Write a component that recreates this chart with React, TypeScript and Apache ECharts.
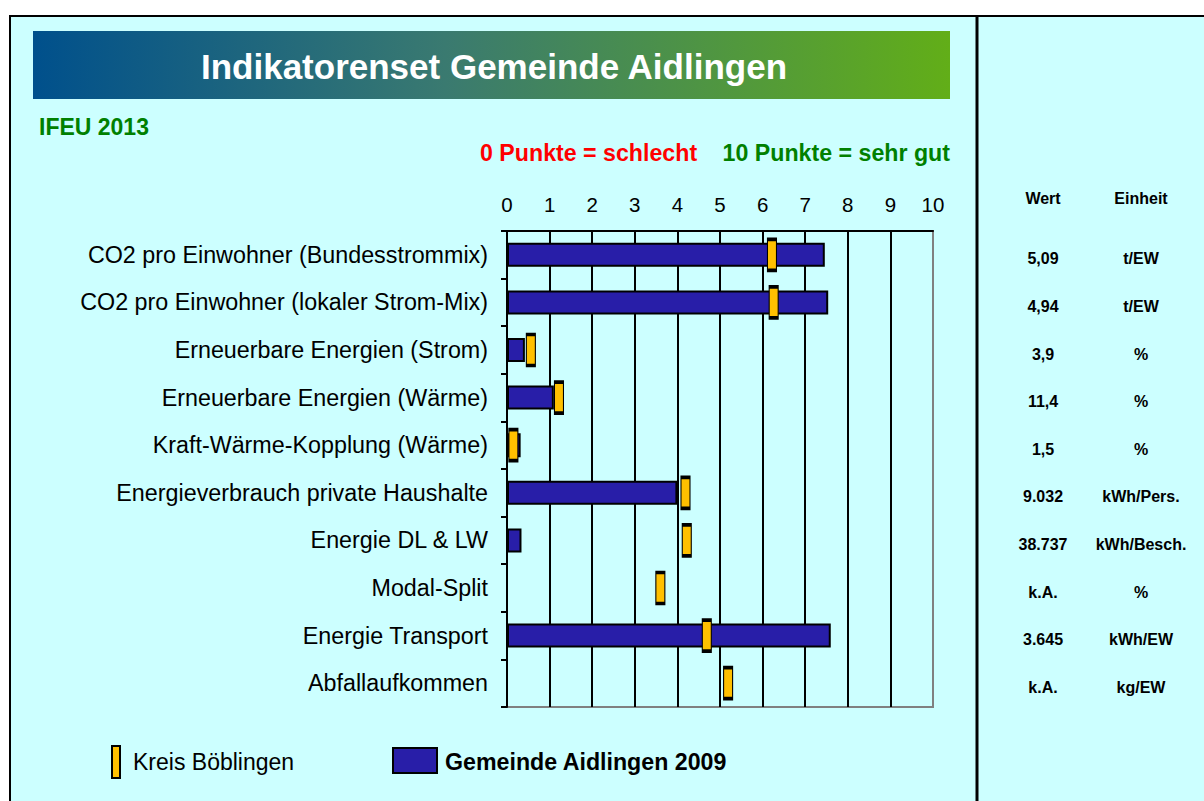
import React, { useEffect, useRef } from "react";
import * as echarts from "echarts";

const categories = [
  "CO2 pro Einwohner (Bundesstrommix)",
  "CO2 pro Einwohner (lokaler Strom-Mix)",
  "Erneuerbare Energien (Strom)",
  "Erneuerbare Energien (Wärme)",
  "Kraft-Wärme-Kopplung (Wärme)",
  "Energieverbrauch private Haushalte",
  "Energie DL & LW",
  "Modal-Split",
  "Energie Transport",
  "Abfallaufkommen",
];
const gemeindeValues: (number | null)[] = [7.46, 7.54, 0.42, 1.1, 0.32, 4.0, 0.34, null, 7.6, null];
const kreisValues: number[] = [6.22, 6.26, 0.56, 1.22, 0.15, 4.19, 4.22, 3.6, 4.69, 5.19];
const wertLabels = ["5,09", "4,94", "3,9", "11,4", "1,5", "9.032", "38.737", "k.A.", "3.645", "k.A."];
const einheitLabels = ["t/EW", "t/EW", "%", "%", "%", "kWh/Pers.", "kWh/Besch.", "%", "kWh/EW", "kg/EW"];

const TITLE = "Indikatorenset Gemeinde Aidlingen";
const SOURCE = "IFEU 2013";
const BAD = "0 Punkte = schlecht";
const GOOD = "10 Punkte = sehr gut";
const SERIES_KREIS = "Kreis Böblingen";
const SERIES_GEMEINDE = "Gemeinde Aidlingen 2009";

const FONT = "'Liberation Sans', Arial, sans-serif";
const GRID = { left: 507, top: 231, width: 426, height: 476 };

export default function App() {
  const ref = useRef<HTMLDivElement>(null);
  useEffect(() => {
    if (!ref.current) return;
    const chart = echarts.init(ref.current, null, { renderer: "svg" });
    const band = GRID.height / categories.length;
    const rowY = (i: number) => GRID.top + (i + 0.5) * band;

    const tableTexts: any[] = [];
    wertLabels.forEach((w, i) => {
      tableTexts.push({
        type: "text",
        x: 1043,
        y: rowY(i) + 4,
        style: { text: w, font: `bold 16px ${FONT}`, fill: "#000", align: "center", verticalAlign: "middle" },
      });
      tableTexts.push({
        type: "text",
        x: 1141,
        y: rowY(i) + 4,
        style: { text: einheitLabels[i], font: `bold 16px ${FONT}`, fill: "#000", align: "center", verticalAlign: "middle" },
      });
    });

    const option: any = {
      animation: false,
      backgroundColor: "#ffffff",
      textStyle: { fontFamily: FONT },
      grid: {
        left: GRID.left,
        top: GRID.top,
        width: GRID.width,
        height: GRID.height,
        show: true,
        borderColor: "#808080",
        borderWidth: 2,
        backgroundColor: "transparent",
        containLabel: false,
      },
      xAxis: {
        type: "value",
        position: "top",
        min: 0,
        max: 10,
        interval: 1,
        axisLine: { show: true, lineStyle: { color: "#000", width: 2 } },
        axisTick: { show: false },
        axisLabel: { fontSize: 20.5, color: "#000", margin: 16, fontFamily: FONT },
        splitLine: { show: true, showMaxLine: false, lineStyle: { color: "#000", width: 2 } },
      },
      yAxis: {
        type: "category",
        inverse: true,
        data: categories,
        axisLine: { show: true, lineStyle: { color: "#000", width: 2 } },
        axisTick: { show: true, length: 6, lineStyle: { color: "#000", width: 2 } },
        axisLabel: { fontSize: 23.3, color: "#000", margin: 19, fontFamily: FONT },
        splitLine: { show: false },
      },
      series: [
        {
          name: SERIES_GEMEINDE,
          type: "bar",
          data: gemeindeValues,
          barWidth: 24,
          itemStyle: { color: "#281EA8", borderColor: "#000", borderWidth: 2 },
          z: 2,
        },
        {
          name: SERIES_KREIS,
          type: "scatter",
          data: kreisValues.map((v, i) => [v, categories[i]]),
          symbol: "rect",
          symbolSize: [9, 31],
          itemStyle: { color: "#FFC000", borderColor: "#000", borderWidth: 2, opacity: 1 },
          z: 5,
        },
      ],
      graphic: [
        {
          type: "rect",
          z: -100,
          silent: true,
          shape: { x: 10, y: 16, width: 1300, height: 900 },
          style: { fill: "#CCFFFF", stroke: "#000", lineWidth: 2 },
        },
        {
          type: "line",
          z: -50,
          silent: true,
          shape: { x1: 977, y1: 16, x2: 977, y2: 820 },
          style: { stroke: "#000", lineWidth: 3 },
        },
        {
          type: "rect",
          z: -50,
          silent: true,
          shape: { x: 33, y: 31, width: 917, height: 68 },
          style: {
            fill: new echarts.graphic.LinearGradient(0, 0, 1, 0, [
              { offset: 0, color: "#00508C" },
              { offset: 0.45, color: "#3A7A70" },
              { offset: 1, color: "#62AE18" },
            ]),
          },
        },
        {
          type: "text",
          x: 494,
          y: 66,
          style: { text: TITLE, font: `bold 35px ${FONT}`, fill: "#ffffff", align: "center", verticalAlign: "middle" },
        },
        {
          type: "text",
          x: 39,
          y: 127,
          style: { text: SOURCE, font: `bold 23px ${FONT}`, fill: "#008000", align: "left", verticalAlign: "middle" },
        },
        {
          type: "text",
          x: 480,
          y: 153,
          style: { text: BAD, font: `bold 23.2px ${FONT}`, fill: "#FF0000", align: "left", verticalAlign: "middle" },
        },
        {
          type: "text",
          x: 950,
          y: 153,
          style: { text: GOOD, font: `bold 23.2px ${FONT}`, fill: "#008000", align: "right", verticalAlign: "middle" },
        },
        {
          type: "text",
          x: 1043,
          y: 198,
          style: { text: "Wert", font: `bold 16px ${FONT}`, fill: "#000", align: "center", verticalAlign: "middle" },
        },
        {
          type: "text",
          x: 1141,
          y: 198,
          style: { text: "Einheit", font: `bold 16px ${FONT}`, fill: "#000", align: "center", verticalAlign: "middle" },
        },
        ...tableTexts,
        {
          type: "rect",
          shape: { x: 112, y: 746, width: 8, height: 32 },
          style: { fill: "#FFC000", stroke: "#000", lineWidth: 2 },
        },
        {
          type: "text",
          x: 133,
          y: 762,
          style: { text: SERIES_KREIS, font: `23px ${FONT}`, fill: "#000", align: "left", verticalAlign: "middle" },
        },
        {
          type: "rect",
          shape: { x: 393, y: 748, width: 44, height: 25 },
          style: { fill: "#281EA8", stroke: "#000", lineWidth: 2 },
        },
        {
          type: "text",
          x: 445,
          y: 762,
          style: { text: SERIES_GEMEINDE, font: `bold 23.2px ${FONT}`, fill: "#000", align: "left", verticalAlign: "middle" },
        },
      ],
    };
    chart.setOption(option);
    return () => chart.dispose();
  }, []);
  return (
    <div
      ref={ref}
      style={{ position: "absolute", left: 0, top: 0, width: 1204, height: 801 }}
    />
  );
}
